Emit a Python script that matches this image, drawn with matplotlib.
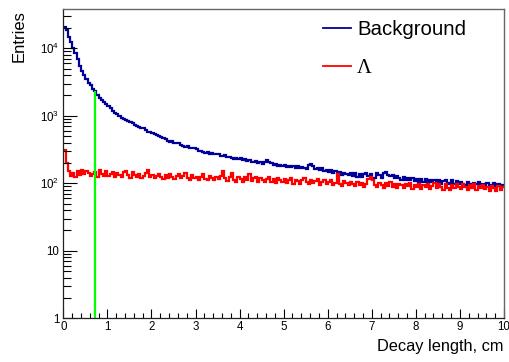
import numpy as np
import matplotlib
matplotlib.use("Agg")
import matplotlib.pyplot as plt
from matplotlib.lines import Line2D
from matplotlib.ticker import FixedLocator, LogLocator, NullFormatter, MultipleLocator, FixedFormatter

plt.rcParams["font.family"] = ["Liberation Sans", "DejaVu Sans"]
plt.rcParams["mathtext.fontset"] = "custom"
plt.rcParams["mathtext.rm"] = "Liberation Sans"
plt.rcParams["mathtext.default"] = "regular"

# Decay length histograms: 200 bins of 0.05 cm from 0 to 10 cm
bin_width = 0.05
n_bins = 200

background = [
    20890, 18620, 14790, 12300, 10000, 8510, 6920, 5500, 4680, 3980,
    3470, 3090, 2820, 2510, 2290, 2040, 1860, 1740, 1585, 1480,
    1380, 1290, 1175, 1096, 1047, 977, 933, 902, 881, 851,
    813, 776, 733, 708, 692, 661, 653, 617, 575, 569,
    562, 543, 513, 501, 479, 468, 447, 427, 407, 417,
    398, 389, 398, 372, 359, 347, 351, 339, 331, 335,
    320, 305, 306, 290, 280, 293, 275, 280, 272, 268,
    270, 255, 250, 262, 244, 248, 240, 232, 240, 226,
    236, 222, 226, 214, 224, 205, 210, 214, 198, 207,
    193, 206, 218, 210, 198, 188, 192, 180, 186, 178,
    187, 175, 180, 172, 180, 170, 182, 166, 175, 168,
    163, 186, 192, 180, 163, 168, 156, 166, 152, 160,
    148, 155, 143, 152, 140, 147, 134, 144, 137, 132,
    140, 128, 141, 126, 135, 124, 138, 141, 130, 136,
    114, 121, 143, 133, 118, 140, 145, 132, 128, 134,
    120, 130, 118, 113, 126, 112, 121, 110, 119, 108,
    117, 106, 114, 103, 116, 99, 112, 105, 111, 102,
    113, 98, 108, 112, 101, 96, 110, 99, 107, 97,
    104, 98, 95, 105, 97, 93, 102, 96, 106, 92,
    99, 91, 101, 94, 90, 100, 89, 96, 91, 93,
]

lambda_signal = [
    309, 200, 152, 128, 141, 125, 150, 133, 156, 138,
    152, 143, 128, 136, 147, 126, 155, 137, 129, 150,
    127, 139, 148, 124, 142, 133, 122, 145, 153, 131,
    120, 147, 134, 126, 137, 118, 130, 140, 158, 124,
    131, 119, 127, 138, 124, 116, 133, 121, 136, 122,
    114, 129, 137, 118, 127, 140, 120, 112, 131, 119,
    126, 113, 122, 135, 117, 110, 128, 119, 112, 125,
    114, 127, 152, 118, 108, 123, 141, 113, 106, 124,
    116, 105, 124, 112, 136, 109, 119, 126, 106, 118,
    110, 103, 117, 125, 106, 114, 101, 120, 111, 104,
    116, 102, 110, 121, 99, 113, 107, 97, 111, 118,
    104, 96, 112, 101, 108, 117, 95, 105, 113, 98,
    103, 111, 94, 102, 138, 99, 92, 108, 100, 95,
    104, 97, 90, 106, 94, 101, 89, 98, 116, 122,
    112, 93, 88, 102, 95, 86, 100, 92, 105, 89,
    97, 85, 99, 93, 84, 98, 90, 101, 83, 94,
    89, 99, 82, 95, 87, 97, 81, 92, 100, 85,
    96, 88, 80, 97, 86, 79, 94, 84, 99, 89,
    82, 96, 87, 80, 93, 85, 98, 79, 90, 84,
    95, 81, 88, 78, 92, 85, 77, 91, 80, 87,
]

cut_value = 0.73  # selection cut on decay length, cm

y_tick_values = [1, 10, 100, 1000, 10000]
y_tick_labels = ["1", "10", r"$10^{2}$", r"$10^{3}$", r"$10^{4}$"]
x_tick_values = list(range(0, 11))
x_tick_labels = [str(v) for v in x_tick_values]

edges = np.arange(n_bins + 1) * bin_width
background = np.array(background, dtype=float)
lambda_signal = np.array(lambda_signal, dtype=float)

W, H = 509, 362
fig = plt.figure(figsize=(W / 100, H / 100), dpi=100)
x0, x1, y0, y1 = 63.3, 504.0, 9.3, 318.3
ax = fig.add_axes([x0 / W, 1 - y1 / H, (x1 - x0) / W, (y1 - y0) / H])

blue = "#000099"
red = "#ff0000"
green = "#00ff00"

ax.stairs(background, edges, baseline=None, color=blue, lw=1.6)
ax.stairs(lambda_signal, edges, baseline=None, color=red, lw=1.6)

cut_bin = int(np.searchsorted(edges, cut_value)) - 1
ax.vlines(cut_value, 1, background[cut_bin], color=green, lw=1.6)

ax.set_yscale("log")
ax.set_xlim(0, 10)
ax.set_ylim(1, 3.78e4)

ax.yaxis.set_major_locator(FixedLocator(y_tick_values))
ax.yaxis.set_major_formatter(FixedFormatter(y_tick_labels))
ax.yaxis.set_minor_locator(LogLocator(base=10, subs=np.arange(2, 10)))
ax.yaxis.set_minor_formatter(NullFormatter())
ax.xaxis.set_major_locator(FixedLocator(x_tick_values))
ax.xaxis.set_major_formatter(FixedFormatter(x_tick_labels))
ax.xaxis.set_minor_locator(MultipleLocator(0.2))

ax.tick_params(axis="y", which="major", direction="in", length=10, width=0.8, labelsize=8.3, pad=3)
ax.tick_params(axis="y", which="minor", direction="in", length=5.8, width=0.8)
ax.tick_params(axis="x", which="major", direction="in", length=6.5, width=0.8, labelsize=8.3, pad=2)
ax.tick_params(axis="x", which="minor", direction="in", length=3.6, width=0.8)

for side in ("left", "bottom"):
    ax.spines[side].set_color("#222222")
    ax.spines[side].set_linewidth(0.9)
for side in ("top", "right"):
    ax.spines[side].set_color("#666666")
    ax.spines[side].set_linewidth(1.0)

fig.text(503.5 / W, 1 - 351.5 / H, "Decay length, cm", ha="right", va="baseline", fontsize=11.8)
fig.text(19 / W, 1 - 10 / H, "Entries", ha="center", va="top", rotation=90, fontsize=12)

handles = [Line2D([], [], color=blue, lw=1.3), Line2D([], [], color=red, lw=1.3)]
leg = ax.legend(handles, ["Background", "Λ"], loc="upper left",
                bbox_to_anchor=(323 / W, 1 - 20 / H), bbox_transform=fig.transFigure,
                frameon=False, fontsize=14.7, handlelength=1.37, handletextpad=0.29,
                labelspacing=0.96, borderpad=0, borderaxespad=0)
leg.get_texts()[1].set_family(["Liberation Serif", "DejaVu Serif"])

fig.savefig("out.png", dpi=100)
